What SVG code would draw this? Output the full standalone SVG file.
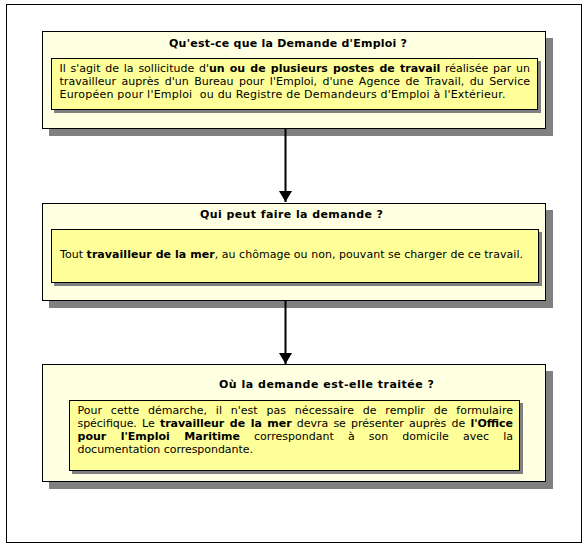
<svg xmlns="http://www.w3.org/2000/svg" width="587" height="550" viewBox="0 0 587 550">
<style>
.frame{fill:#fff;stroke:#000;stroke-width:1}
.sh{fill:#808080}
.outer{fill:#FFFFE1;stroke:#000;stroke-width:1}
.inner{fill:#FFFF99;stroke:#000;stroke-width:1}
text{font-family:"DejaVu Sans",Verdana,sans-serif;font-size:11px;fill:#000}
.t{font-weight:bold}
.b{font-weight:bold}
.conn{stroke:#000;stroke-width:2;fill:none}
</style>
<defs>
<marker id="ah" markerUnits="userSpaceOnUse" markerWidth="12" markerHeight="14" refX="11" refY="7" orient="auto" viewBox="0 0 12 14">
<path d="M0,0.5 L11,7 L0,13.5 z" fill="#000"/>
</marker>
</defs>
<rect class="frame" x="6.5" y="4.5" width="575" height="538"/>
<g id="node1">
<rect class="sh" x="49" y="38" width="504" height="98"/>
<rect class="outer" x="42.5" y="31.5" width="503" height="97"/>
<text class="t" x="169" y="47" textLength="238" lengthAdjust="spacing">Qu'est-ce que la Demande d'Emploi ?</text>
<rect class="sh" x="54" y="61" width="487" height="52"/>
<rect class="inner" x="51.5" y="58.5" width="486" height="51"/>
<text x="59.5" y="72" word-spacing="1.3" textLength="470.5" lengthAdjust="spacing">Il s'agit de la sollicitude d'<tspan class="b">un ou de plusieurs postes de travail</tspan> réalisée par un</text>
<text x="59.5" y="85" word-spacing="1.9" textLength="470.5" lengthAdjust="spacing">travailleur auprès d'un Bureau pour l'Emploi, d'une Agence de Travail, du Service</text>
<text x="59.5" y="98" xml:space="preserve" textLength="446" lengthAdjust="spacing">Européen pour l'Emploi  ou du Registre de Demandeurs d'Emploi à l'Extérieur.</text>
</g>
<g id="node2">
<rect class="sh" x="49" y="210" width="504" height="98"/>
<rect class="outer" x="42.5" y="203.5" width="503" height="97"/>
<text class="t" x="200" y="218" textLength="183" lengthAdjust="spacing">Qui peut faire la demande ?</text>
<rect class="sh" x="54" y="232" width="488" height="54"/>
<rect class="inner" x="51.5" y="229.5" width="487" height="53"/>
<text x="60" y="258" textLength="463" lengthAdjust="spacing">Tout <tspan class="b">travailleur de la mer</tspan>, au chômage ou non, pouvant se charger de ce travail.</text>
</g>
<g id="node3">
<rect class="sh" x="49" y="371" width="504" height="118"/>
<rect class="outer" x="42.5" y="364.5" width="503" height="117"/>
<text class="t" x="219" y="388" textLength="215" lengthAdjust="spacing">Où la demande est-elle traitée ?</text>
<rect class="sh" x="72" y="403" width="451" height="71"/>
<rect class="inner" x="69.5" y="400.5" width="450" height="70"/>
<text x="77.5" y="414" word-spacing="5.3" textLength="435.5" lengthAdjust="spacing">Pour cette démarche, il n'est pas nécessaire de remplir de formulaire</text>
<text x="77.5" y="427" word-spacing="1.8" textLength="435.5" lengthAdjust="spacing">spécifique. Le <tspan class="b">travailleur de la mer</tspan> devra se présenter auprès de <tspan class="b">l'Office</tspan></text>
<text x="77.5" y="440" word-spacing="10.6" textLength="435.5" lengthAdjust="spacing"><tspan class="b">pour l'Emploi Maritime</tspan> correspondant à son domicile avec la</text>
<text x="77.5" y="453" textLength="175.5" lengthAdjust="spacing">documentation correspondante.</text>
</g>
<g id="connectors">
<line class="conn" x1="285.5" y1="129" x2="285.5" y2="202" marker-end="url(#ah)"/>
<line class="conn" x1="285.5" y1="301" x2="285.5" y2="364" marker-end="url(#ah)"/>
</g>
</svg>
